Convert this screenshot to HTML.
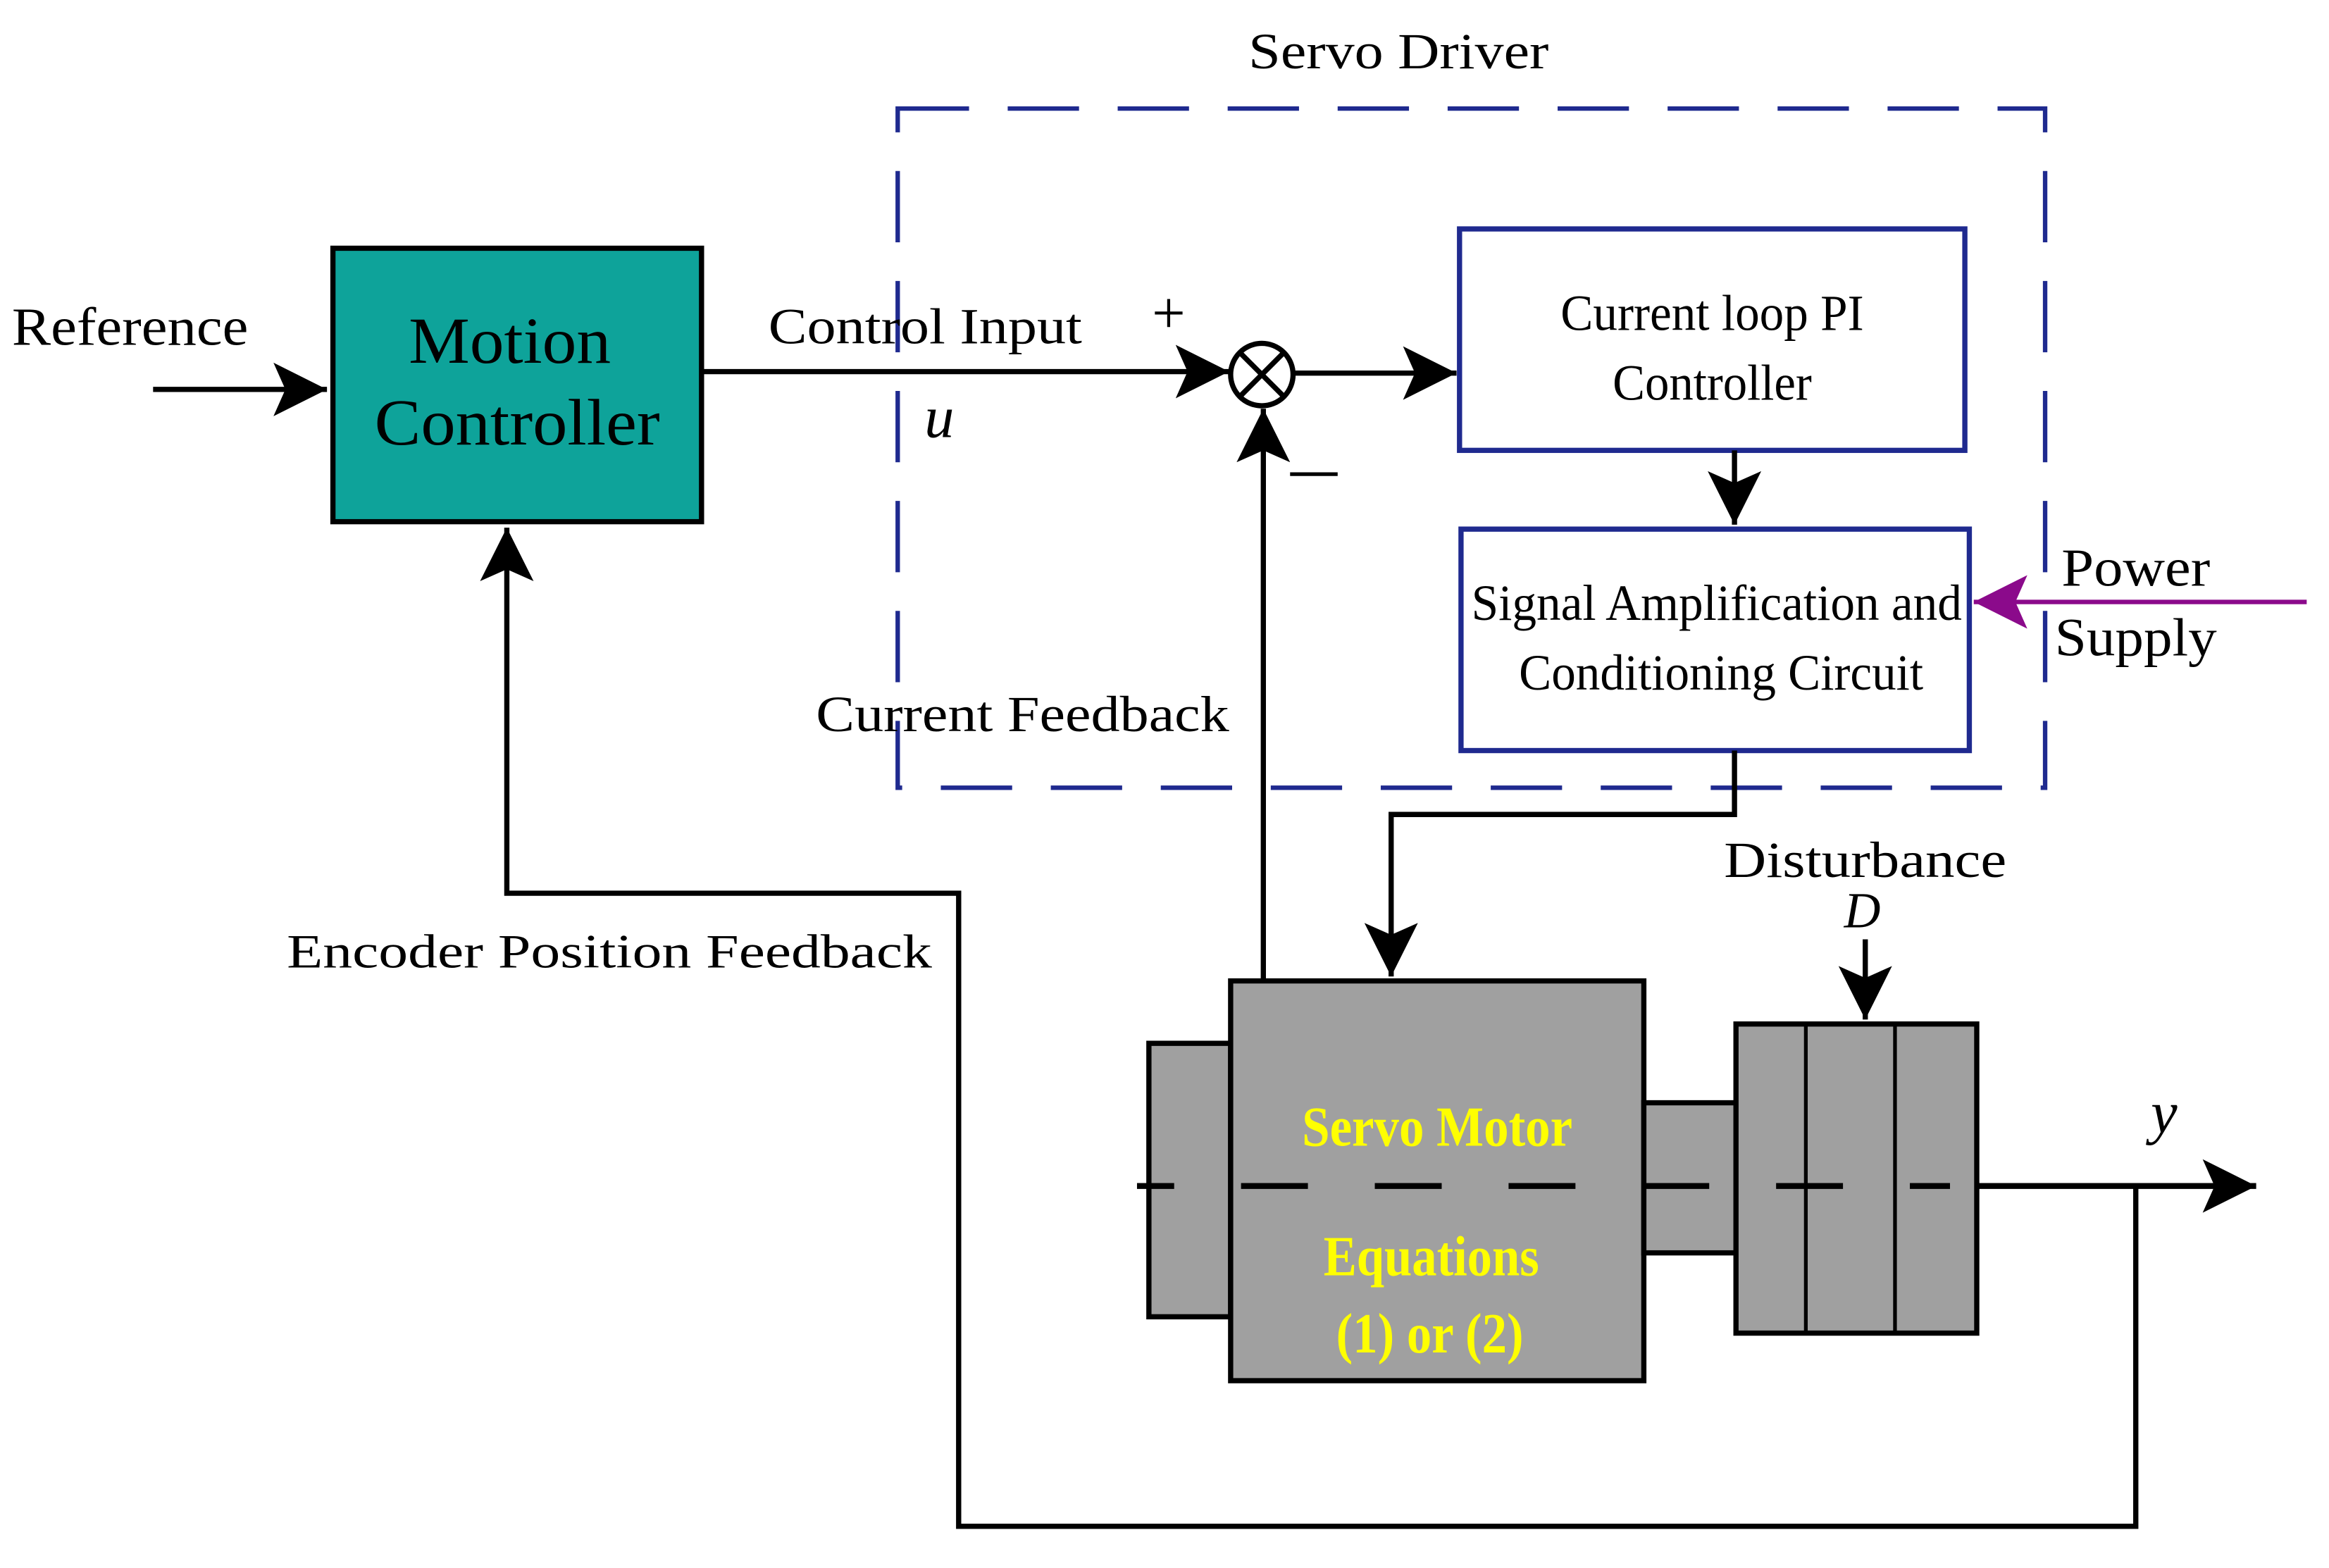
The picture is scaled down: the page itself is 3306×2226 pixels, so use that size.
<!DOCTYPE html>
<html><head><meta charset="utf-8"><style>
html,body{margin:0;padding:0;background:#fff;width:3306px;height:2226px;overflow:hidden}
svg{display:block}
text{font-family:"Liberation Serif",serif;fill:#000}
.y{fill:#ffff00;font-weight:bold}
</style></head><body>
<svg width="3306" height="2226" viewBox="0 0 1567 1055" xmlns="http://www.w3.org/2000/svg">
<defs>
<marker id="a" markerWidth="40" markerHeight="40" refX="36" refY="20" orient="auto" markerUnits="userSpaceOnUse">
<path d="M0,2 L36,20 L0,38 L8,20 Z" fill="#000"/></marker>
<marker id="p" markerWidth="40" markerHeight="40" refX="36" refY="20" orient="auto" markerUnits="userSpaceOnUse">
<path d="M0,2 L36,20 L0,38 L8,20 Z" fill="#8b0a8b"/></marker>
</defs>
<text x="941" y="46" font-size="34" text-anchor="middle" textLength="202" lengthAdjust="spacingAndGlyphs">Servo Driver</text>
<rect x="604" y="73" width="772" height="457" fill="none" stroke="#1f2a8f" stroke-width="3" stroke-dasharray="48,26"/>
<rect x="224" y="167" width="248" height="184" fill="#0ea39a" stroke="#000" stroke-width="3.5"/>
<text x="343" y="244" font-size="44" text-anchor="middle" textLength="136" lengthAdjust="spacingAndGlyphs">Motion</text>
<text x="348" y="299" font-size="44" text-anchor="middle" textLength="192" lengthAdjust="spacingAndGlyphs">Controller</text>
<text x="8" y="232" font-size="36" textLength="159" lengthAdjust="spacingAndGlyphs">Reference</text>
<line x1="103" y1="262" x2="220" y2="262" stroke="#000" stroke-width="3.5" marker-end="url(#a)"/>
<line x1="472" y1="250" x2="827" y2="250" stroke="#000" stroke-width="3.5" marker-end="url(#a)"/>
<text x="517" y="231" font-size="34" textLength="211" lengthAdjust="spacingAndGlyphs">Control Input</text>
<text x="775" y="224" font-size="40">+</text>
<text x="622" y="294" font-size="40" font-style="italic">u</text>
<circle cx="849" cy="252" r="21" fill="#fff" stroke="#000" stroke-width="3.5"/>
<line x1="834" y1="237" x2="864" y2="267" stroke="#000" stroke-width="3.5"/>
<line x1="864" y1="237" x2="834" y2="267" stroke="#000" stroke-width="3.5"/>
<line x1="870" y1="251" x2="980" y2="251" stroke="#000" stroke-width="3.5" marker-end="url(#a)"/>
<line x1="850" y1="660" x2="850" y2="275" stroke="#000" stroke-width="3.5" marker-end="url(#a)"/>
<line x1="868" y1="319" x2="900" y2="319" stroke="#000" stroke-width="2.5"/>
<text x="549" y="492" font-size="34" textLength="278" lengthAdjust="spacingAndGlyphs">Current Feedback</text>
<rect x="982" y="154" width="340" height="149" fill="#fff" stroke="#1f2a8f" stroke-width="3.5"/>
<text x="1152" y="222" font-size="34" text-anchor="middle" textLength="204" lengthAdjust="spacingAndGlyphs">Current loop PI</text>
<text x="1152" y="269" font-size="34" text-anchor="middle" textLength="134" lengthAdjust="spacingAndGlyphs">Controller</text>
<line x1="1167" y1="303" x2="1167" y2="353" stroke="#000" stroke-width="3.5" marker-end="url(#a)"/>
<rect x="983" y="356" width="342" height="149" fill="#fff" stroke="#1f2a8f" stroke-width="3.5"/>
<text x="1155" y="417" font-size="34" text-anchor="middle" textLength="330" lengthAdjust="spacingAndGlyphs">Signal Amplification and</text>
<text x="1158" y="464" font-size="34" text-anchor="middle" textLength="272" lengthAdjust="spacingAndGlyphs">Conditioning Circuit</text>
<line x1="1552" y1="405" x2="1328" y2="405" stroke="#8b0a8b" stroke-width="3" marker-end="url(#p)"/>
<text x="1437" y="394" font-size="36" text-anchor="middle" textLength="100" lengthAdjust="spacingAndGlyphs">Power</text>
<text x="1437" y="441" font-size="36" text-anchor="middle" textLength="109" lengthAdjust="spacingAndGlyphs">Supply</text>
<polyline points="1167,505 1167,548 936,548 936,657" fill="none" stroke="#000" stroke-width="3.5" marker-end="url(#a)"/>
<rect x="773" y="702" width="55" height="184" fill="#a0a0a0" stroke="#000" stroke-width="3.5"/>
<rect x="828" y="660" width="278" height="269" fill="#a0a0a0" stroke="#000" stroke-width="3.5"/>
<rect x="1106" y="742" width="62" height="101" fill="#a0a0a0" stroke="#000" stroke-width="3.5"/>
<rect x="1168" y="689" width="162" height="208" fill="#a0a0a0" stroke="#000" stroke-width="3.5"/>
<line x1="1215" y1="689" x2="1215" y2="897" stroke="#000" stroke-width="2.5"/>
<line x1="1275" y1="689" x2="1275" y2="897" stroke="#000" stroke-width="2.5"/>
<line x1="765" y1="798" x2="1312" y2="798" stroke="#000" stroke-width="4" stroke-dasharray="45,45" stroke-dashoffset="20"/>
<line x1="1330" y1="798" x2="1518" y2="798" stroke="#000" stroke-width="4" marker-end="url(#a)"/>
<text x="1456" y="762" font-size="40" font-style="italic" text-anchor="middle">y</text>
<text class="y" x="967" y="771" font-size="38" text-anchor="middle" textLength="182" lengthAdjust="spacingAndGlyphs">Servo Motor</text>
<text class="y" x="963" y="858" font-size="38" text-anchor="middle" textLength="145" lengthAdjust="spacingAndGlyphs">Equations</text>
<text class="y" x="962" y="910" font-size="38" text-anchor="middle" textLength="126" lengthAdjust="spacingAndGlyphs">(1) or (2)</text>
<text x="1255" y="590" font-size="34" text-anchor="middle" textLength="190" lengthAdjust="spacingAndGlyphs">Disturbance</text>
<text x="1253" y="624" font-size="34" font-style="italic" text-anchor="middle">D</text>
<line x1="1255" y1="632" x2="1255" y2="686" stroke="#000" stroke-width="3.5" marker-end="url(#a)"/>
<polyline points="1437,798 1437,1027 645,1027 645,601 341,601 341,355" fill="none" stroke="#000" stroke-width="3.5" marker-end="url(#a)"/>
<text x="193" y="651" font-size="32" textLength="434" lengthAdjust="spacingAndGlyphs">Encoder Position Feedback</text>
</svg>
</body></html>
